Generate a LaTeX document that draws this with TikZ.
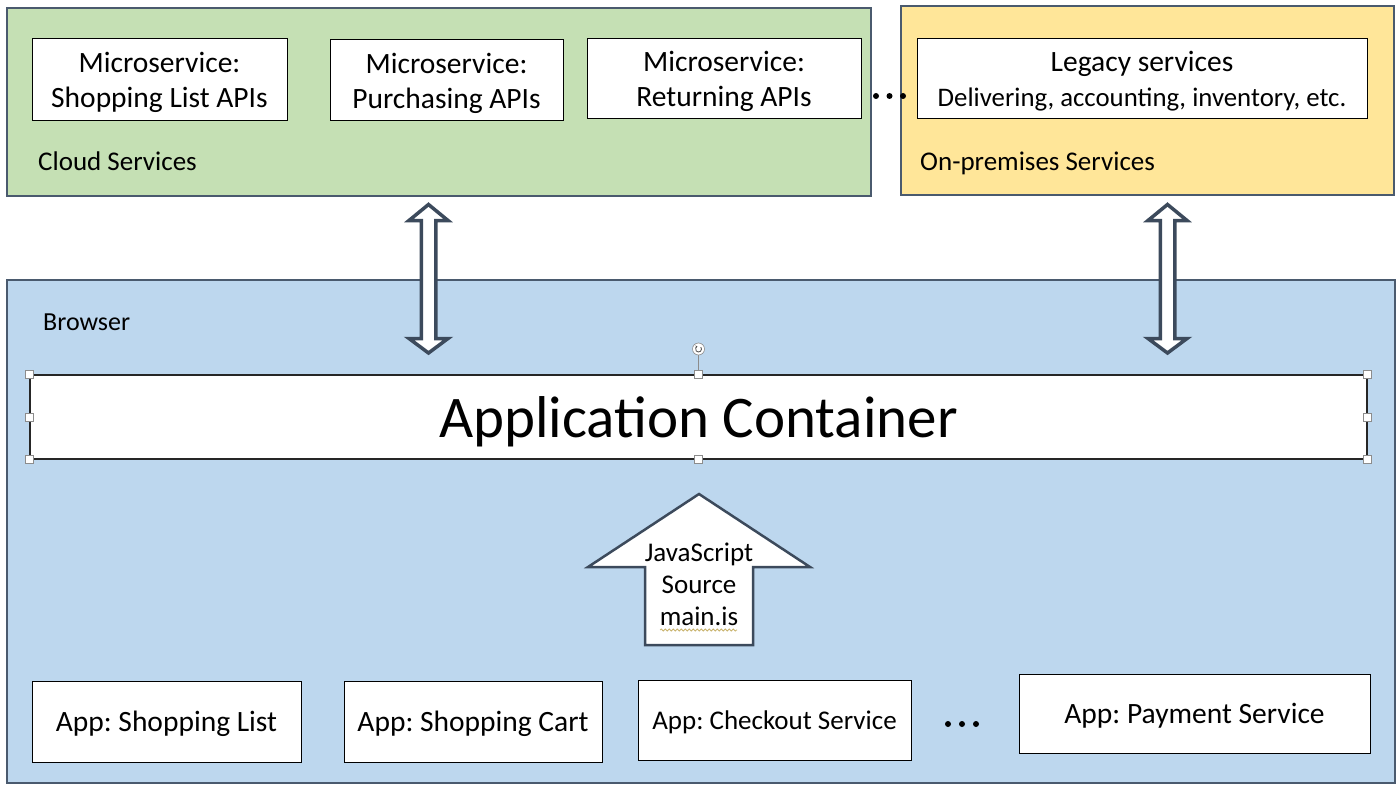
\documentclass[tikz,border=0pt]{standalone}
\usepackage{fontspec}
\setmainfont{Carlito}
\usetikzlibrary{decorations.pathmorphing, arrows.meta}
\definecolor{cloudgreen}{HTML}{C5E0B4}
\definecolor{premyellow}{HTML}{FFE699}
\definecolor{browserblue}{HTML}{BDD7EE}
\definecolor{regionline}{HTML}{4A5A6E}
\definecolor{arrowline}{HTML}{3C4A5C}
\definecolor{handlegray}{HTML}{8C8C8C}
\definecolor{squigglecol}{HTML}{C9B46E}
\frenchspacing
\begin{document}
\begin{tikzpicture}[x=1pt,y=-1pt,
  region/.style={draw=regionline, line width=1.2pt, inner sep=0pt},
  svcbox/.style={draw=black, line width=1pt, fill=white, align=center, inner sep=0pt, text depth=0pt, font=\fontsize{29.5}{35}\selectfont},
  appsmall/.style={svcbox, font=\fontsize{27}{32}\selectfont},
  lbl/.style={anchor=base west, inner sep=0pt, font=\fontsize{27}{32}\selectfont},
  handle/.style={draw=handlegray, fill=white, line width=0.6pt, minimum size=8pt, inner sep=0pt},
  blockarrow/.style={draw=arrowline, line width=3.5pt, fill=white, line join=miter},
  sepdot/.style={circle, fill=black, minimum size=6pt, inner sep=0pt},
]
\useasboundingbox[fill=white] (0,0) rectangle (1400,789);

% regions
\node[region, fill=cloudgreen, minimum width=864pt, minimum height=188pt] (cloud) at (439,102) {};
\node[region, fill=premyellow, minimum width=493pt, minimum height=189pt] (prem) at (1147.5,100.5) {};
\node[region, fill=browserblue, minimum width=1388pt, minimum height=503pt] (browser) at (701,531.5) {};

% cloud services
\node[svcbox, minimum width=255pt, minimum height=82pt] (m1) at (159.5,80) {Microservice:\\Shopping List APIs};
\node[svcbox, minimum width=233pt, minimum height=81pt] (m2) at (446.5,80.5) {Microservice:\\Purchasing APIs};
\node[svcbox, minimum width=274pt, minimum height=80pt] (m3) at (724,79) {Microservice:\\Returning APIs};
\node[lbl] (cloudlbl) at (38,170) {Cloud Services};

% dots between
\node[sepdot] (d1) at (876,96) {};
\node[sepdot] (d2) at (889.5,96) {};
\node[sepdot] (d3) at (903,96) {};

% on-premises
\node[svcbox, minimum width=450pt, minimum height=80pt] (legacy) at (1142,79) {Legacy services\\\fontsize{26.8}{32}\selectfont Delivering, accounting, inventory, etc.};
\node[lbl] (premlbl) at (920,171) {On-premises Services};

% double arrows
\foreach \c in {428.5,1167.5}
  \draw[blockarrow] (\c,204.5) -- ({\c+19.5},220.5) -- ({\c+7.25},220.5) -- ({\c+7.25},338.5)
    -- ({\c+19.5},338.5) -- (\c,353) -- ({\c-19.5},338.5) -- ({\c-7.25},338.5)
    -- ({\c-7.25},220.5) -- ({\c-19.5},220.5) -- cycle;

% browser
\node[lbl, font=\fontsize{26}{31}\selectfont] (browserlbl) at (43,330) {Browser};

\node[draw=black!85, line width=1.2pt, fill=white, inner sep=0pt, minimum width=1337pt, minimum height=84pt,
      text depth=0pt, font=\fontsize{59}{70}\selectfont] (cont) at (698.5,417) {Application Container};
\foreach \a/\n in {north west/hNW, north/hN, north east/hNE, west/hW, east/hE, south west/hSW, south/hS, south east/hSE}
  \node[handle] (\n) at (cont.\a) {};
\node[circle, draw=handlegray, fill=white, line width=0.6pt, minimum size=12pt, inner sep=0pt] (rot) at (698.5,349) {};
\draw[handlegray, line width=0.6pt] (rot.south) -- (hN.north);
\draw[black!70, line width=0.8pt, -{Stealth[length=2pt,width=2.5pt]}] ([shift={(40:3pt)}]rot.center) arc[start angle=40, end angle=-250, radius=3pt];

% JavaScript source arrow
\draw[blockarrow, line width=2.5pt] (699,494) -- (810,567) -- (753,567) -- (753,645) -- (645,645) -- (645,567) -- (588,567) -- cycle;
\node[align=center, inner sep=0pt, font=\fontsize{27}{32}\selectfont] (js) at (699,584) {JavaScript\\Source\\main.is};
\draw[squigglecol, line width=0.8pt, decorate, decoration={snake, amplitude=1pt, segment length=4pt}] (660,630) -- (737,630);

% apps
\node[svcbox, minimum width=269pt, minimum height=81pt] (a1) at (166.5,721.5) {App: Shopping List};
\node[svcbox, minimum width=258pt, minimum height=81pt] (a2) at (473,721.5) {App: Shopping Cart};
\node[appsmall, minimum width=273pt, minimum height=80pt] (a3) at (774.5,720) {App: Checkout Service};
\node[sepdot] (e1) at (948,724) {};
\node[sepdot] (e2) at (962,724) {};
\node[sepdot] (e3) at (976,724) {};
\node[svcbox, minimum width=351pt, minimum height=79pt] (a4) at (1194.5,713.5) {App: Payment Service};
\end{tikzpicture}
\end{document}
